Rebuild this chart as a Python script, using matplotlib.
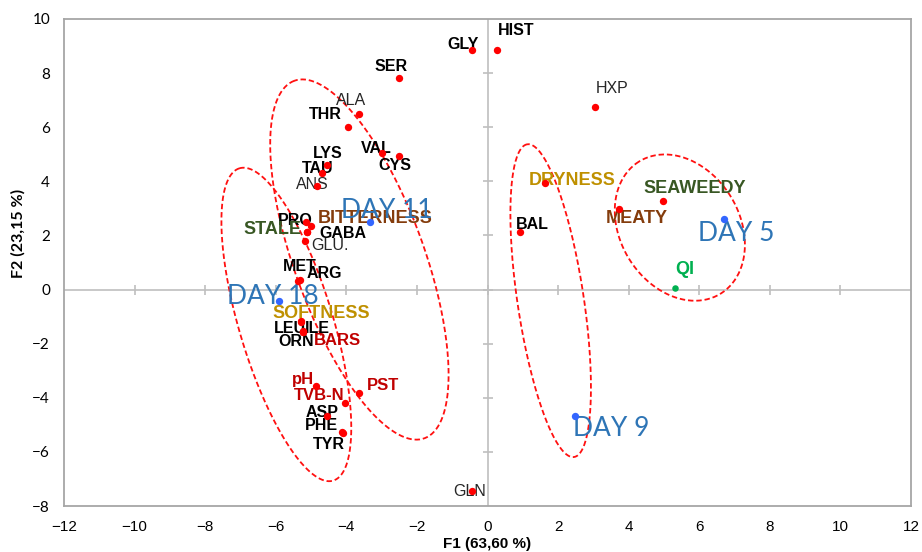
import numpy as np
import matplotlib
matplotlib.use("Agg")
import matplotlib.pyplot as plt

# PCA biplot, F1 x F2
names = ["GLY", "HIST", "SER", "ALA", "THR", "VAL", "CYS", "LYS", "TAU", "ANS",
         "PRO", "GABA", "GLU.", "MET", "ARG", "LEU", "ILE", "ORN", "pH", "TVB-N",
         "PST", "ASP", "PHE", "TYR", "GLN", "HXP", "DRYNESS", "BAL", "MEATY",
         "SEAWEEDY", "BITTERNESS", "STALE", "SOFTNESS", "BARS"]
f1 = [-0.43, 0.28, -2.52, -3.63, -3.94, -2.98, -2.52, -4.54, -4.68, -4.82,
      -5.13, -5.11, -5.16, -5.36, -5.32, -5.28, -5.22, -5.24, -4.85, -4.03,
      -3.63, -4.54, -4.11, -4.10, -0.43, 3.06, 1.62, 0.91, 3.72,
      4.96, -5.00, -5.12, -5.28, -5.22]
f2 = [8.87, 8.87, 7.83, 6.50, 6.02, 5.03, 4.92, 4.62, 4.29, 3.84,
      2.51, 2.14, 1.81, 0.33, 0.35, -1.18, -1.55, -1.57, -3.58, -4.21,
      -3.84, -4.66, -5.28, -5.30, -7.46, 6.76, 3.95, 2.11, 2.99,
      3.29, 2.36, 2.12, -1.20, -1.56]
kinds = ["bold", "bold", "bold", "plain", "bold", "bold", "bold", "bold", "bold", "plain",
         "bold", "bold", "plain", "bold", "bold", "bold", "bold", "bold", "red", "red",
         "red", "bold", "bold", "bold", "plain", "plain", "gold", "bold", "brown",
         "green", "brown", "green", "gold", "red"]

qi_f1, qi_f2 = [5.30], [0.04]

days = ["DAY 5", "DAY 9", "DAY 11", "DAY 18"]
day_f1 = [6.70, 2.47, -3.32, -5.90]
day_f2 = [2.59, -4.69, 2.51, -0.44]

# group ellipses: centre (F1, F2), semi-axes (in F1 units), tilt in degrees
ell_cx = [-5.70, -3.63, 1.79, 5.45]
ell_cy = [-1.29, 1.11, -0.41, 2.29]
ell_a = [4.62, 5.39, 4.48, 2.20]
ell_b = [1.33, 1.84, 0.94, 1.69]
ell_ang = [106.7, 110.0, 98.5, 121.6]

xticks = list(range(-12, 13, 2))
yticks = list(range(-8, 11, 2))

# label offsets in pixels (text centre relative to point)
offsets = {
    "GLY": (-9, 5), "HIST": (19, 19), "SER": (-7, 11), "ALA": (-8, 13),
    "THR": (-23, 12), "VAL": (-6, 5), "CYS": (-4, -9), "LYS": (0, 11),
    "TAU": (-5, 5), "ANS": (-5, 1), "PRO": (-11, 1), "GABA": (36, -2),
    "GLU.": (25, -5), "MET": (1, 14), "ARG": (25, 7), "LEU": (-11, -7),
    "ILE": (14, 3), "ORN": (-6, -9), "pH": (-13, 7), "TVB-N": (-26, 8),
    "PST": (24, 8), "ASP": (-5, 3), "PHE": (-21, 7), "TYR": (-14, -12),
    "GLN": (-3, 0), "HXP": (17, 18), "DRYNESS": (28, 2), "BAL": (13, 8),
    "MEATY": (18, -10), "SEAWEEDY": (32, 12), "BITTERNESS": (64, 7),
    "STALE": (-34, 3), "SOFTNESS": (20, 9), "BARS": (34, -9),
    "QI": (10, 19), "DAY 5": (12, -14), "DAY 9": (37, -12),
    "DAY 11": (16, 11), "DAY 18": (-6, 5),
}
styles = {
    "bold": dict(color="black", fontweight="bold", fontsize=11.5),
    "plain": dict(color="#262626", fontweight="normal", fontsize=11.5),
    "red": dict(color="#C00000", fontweight="bold", fontsize=12),
    "gold": dict(color="#BF9000", fontweight="bold", fontsize=13),
    "brown": dict(color="#843C0C", fontweight="bold", fontsize=13),
    "green": dict(color="#385723", fontweight="bold", fontsize=13),
}

W, H = 922, 552
left, right, top, bottom = 64 / W, 911 / W, 1 - 19 / H, 1 - 506 / H

fig = plt.figure(figsize=(W / 100, H / 100), dpi=100)
ax = fig.add_axes([left, bottom, right - left, top - bottom])
ax.set_xlim(-12, 12)
ax.set_ylim(-8, 10)

for s in ax.spines.values():
    s.set_color("#A6A6A6")
    s.set_linewidth(1.3)

ax.axhline(0, color="#BFBFBF", lw=1.2, zorder=1)
ax.axvline(0, color="#BFBFBF", lw=1.2, zorder=1)
ax.plot([x for x in xticks if abs(x) < 12], [0] * 11, ls="none", marker="|",
        ms=7, mew=1.2, color="#BFBFBF", zorder=1)
ax.plot([0] * 8, [y for y in yticks if -8 < y < 10], ls="none", marker="_",
        ms=7, mew=1.2, color="#BFBFBF", zorder=1)

ax.set_xticks(xticks)
ax.set_yticks(yticks)
ax.tick_params(length=0, labelsize=11, pad=10)
for lab in ax.get_xticklabels():
    lab.set_family(["Liberation Sans Narrow", "Liberation Sans"])
for lab in ax.get_yticklabels():
    lab.set_family(["Lato", "DejaVu Sans"])
ax.set_xlabel("F1 (63,60 %)", fontsize=11, fontweight="bold",
              family=["Liberation Sans Narrow", "Liberation Sans"], labelpad=2)
ax.set_ylabel("F2 (23,15 %)", fontsize=11.5, fontweight="bold",
              family=["Lato", "DejaVu Sans"], labelpad=6)
ax.yaxis.set_label_coords(-0.045, 0.56)

# ellipses drawn in equal-pixel space
k = ((right - left) * W / 24) / ((top - bottom) * H / 18)
t = np.linspace(0, 2 * np.pi, 300)
for cx, cy, a, b, ang in zip(ell_cx, ell_cy, ell_a, ell_b, ell_ang):
    p = np.radians(ang)
    u, v = a * np.cos(t), b * np.sin(t)
    ex = cx + u * np.cos(p) - v * np.sin(p)
    ey = cy + (u * np.sin(p) + v * np.cos(p)) * k
    ax.plot(ex, ey, color="#FF1010", lw=1.3, ls=(0, (3, 1.6)), zorder=2)

ax.scatter(f1, f2, s=28, color="#FF0000", zorder=5, linewidths=0)
ax.scatter(qi_f1, qi_f2, s=22, color="#00B050", zorder=5, linewidths=0)
ax.scatter(day_f1, day_f2, s=28, color="#3366FF", zorder=5, linewidths=0)

for n, x, y, kd in zip(names, f1, f2, kinds):
    ax.annotate(n, (x, y), xytext=offsets[n], textcoords="offset pixels",
                ha="center", va="center", family="Liberation Sans",
                zorder=4, **styles[kd])
ax.annotate("QI", (qi_f1[0], qi_f2[0]), xytext=offsets["QI"],
            textcoords="offset pixels", ha="center", va="center",
            fontsize=13, color="#00B050", fontweight="bold",
            family="Liberation Sans", zorder=4)
for n, x, y in zip(days, day_f1, day_f2):
    ax.annotate(n, (x, y), xytext=offsets[n], textcoords="offset pixels",
                ha="center", va="center", fontsize=19, color="#2E75B6",
                family=["Lato", "DejaVu Sans"], zorder=4)

fig.savefig("out.png", dpi=100)
